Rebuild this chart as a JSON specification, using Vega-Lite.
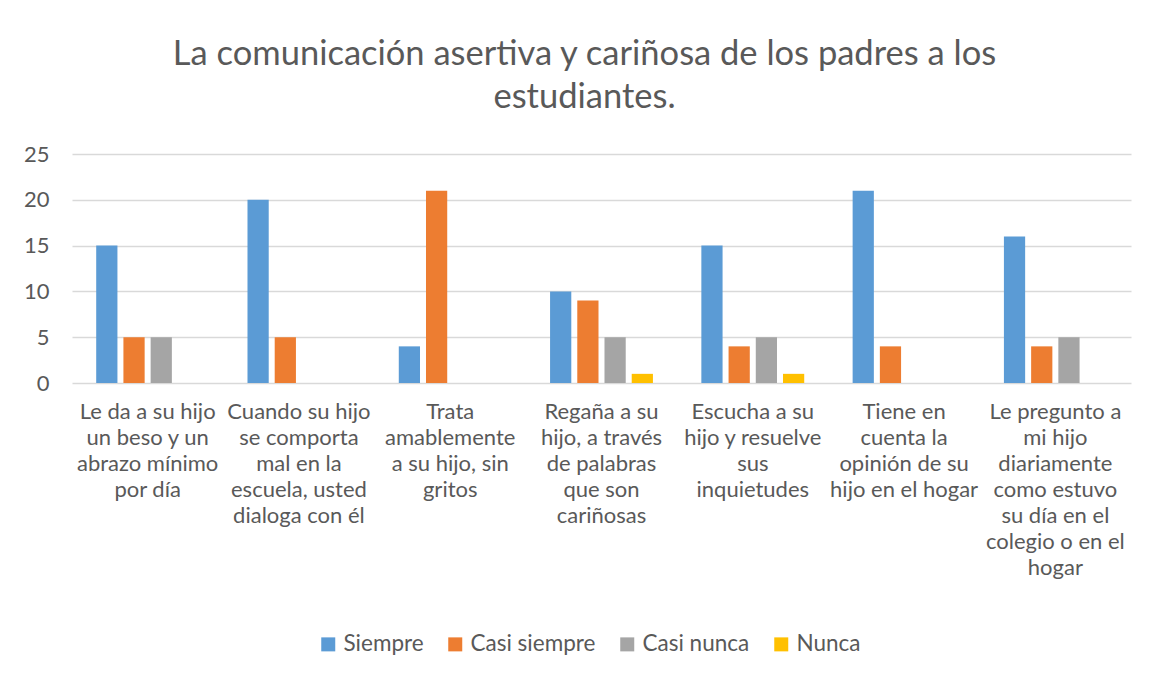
{
  "$schema": "https://vega.github.io/schema/vega-lite/v6.json",
  "width": 1059,
  "height": 229,
  "autosize": {"type": "none"},
  "padding": {"left": 72, "top": 154, "right": 26, "bottom": 296},
  "background": "white",
  "title": {
    "text": ["La comunicación asertiva y cariñosa de los padres a los", "estudiantes."],
    "anchor": "middle",
    "dx": -17,
    "offset": 28,
    "fontSize": 34.5,
    "lineHeight": 43,
    "font": "Lato",
    "fontWeight": "normal",
    "color": "#595959"
  },
  "data": {
    "values": [
      {"pregunta": "Le da a su hijo|un beso y un|abrazo mínimo|por día", "orden": 1, "respuesta": "Siempre", "valor": 15},
      {"pregunta": "Le da a su hijo|un beso y un|abrazo mínimo|por día", "orden": 1, "respuesta": "Casi siempre", "valor": 5},
      {"pregunta": "Le da a su hijo|un beso y un|abrazo mínimo|por día", "orden": 1, "respuesta": "Casi nunca", "valor": 5},
      {"pregunta": "Le da a su hijo|un beso y un|abrazo mínimo|por día", "orden": 1, "respuesta": "Nunca", "valor": 0},
      {"pregunta": "Cuando su hijo|se comporta|mal en la|escuela, usted|dialoga con él", "orden": 2, "respuesta": "Siempre", "valor": 20},
      {"pregunta": "Cuando su hijo|se comporta|mal en la|escuela, usted|dialoga con él", "orden": 2, "respuesta": "Casi siempre", "valor": 5},
      {"pregunta": "Cuando su hijo|se comporta|mal en la|escuela, usted|dialoga con él", "orden": 2, "respuesta": "Casi nunca", "valor": 0},
      {"pregunta": "Cuando su hijo|se comporta|mal en la|escuela, usted|dialoga con él", "orden": 2, "respuesta": "Nunca", "valor": 0},
      {"pregunta": "Trata|amablemente|a su hijo, sin|gritos", "orden": 3, "respuesta": "Siempre", "valor": 4},
      {"pregunta": "Trata|amablemente|a su hijo, sin|gritos", "orden": 3, "respuesta": "Casi siempre", "valor": 21},
      {"pregunta": "Trata|amablemente|a su hijo, sin|gritos", "orden": 3, "respuesta": "Casi nunca", "valor": 0},
      {"pregunta": "Trata|amablemente|a su hijo, sin|gritos", "orden": 3, "respuesta": "Nunca", "valor": 0},
      {"pregunta": "Regaña a su|hijo, a través|de palabras|que son|cariñosas", "orden": 4, "respuesta": "Siempre", "valor": 10},
      {"pregunta": "Regaña a su|hijo, a través|de palabras|que son|cariñosas", "orden": 4, "respuesta": "Casi siempre", "valor": 9},
      {"pregunta": "Regaña a su|hijo, a través|de palabras|que son|cariñosas", "orden": 4, "respuesta": "Casi nunca", "valor": 5},
      {"pregunta": "Regaña a su|hijo, a través|de palabras|que son|cariñosas", "orden": 4, "respuesta": "Nunca", "valor": 1},
      {"pregunta": "Escucha a su|hijo y resuelve|sus|inquietudes", "orden": 5, "respuesta": "Siempre", "valor": 15},
      {"pregunta": "Escucha a su|hijo y resuelve|sus|inquietudes", "orden": 5, "respuesta": "Casi siempre", "valor": 4},
      {"pregunta": "Escucha a su|hijo y resuelve|sus|inquietudes", "orden": 5, "respuesta": "Casi nunca", "valor": 5},
      {"pregunta": "Escucha a su|hijo y resuelve|sus|inquietudes", "orden": 5, "respuesta": "Nunca", "valor": 1},
      {"pregunta": "Tiene en|cuenta la|opinión de su|hijo en el hogar", "orden": 6, "respuesta": "Siempre", "valor": 21},
      {"pregunta": "Tiene en|cuenta la|opinión de su|hijo en el hogar", "orden": 6, "respuesta": "Casi siempre", "valor": 4},
      {"pregunta": "Tiene en|cuenta la|opinión de su|hijo en el hogar", "orden": 6, "respuesta": "Casi nunca", "valor": 0},
      {"pregunta": "Tiene en|cuenta la|opinión de su|hijo en el hogar", "orden": 6, "respuesta": "Nunca", "valor": 0},
      {"pregunta": "Le pregunto a|mi hijo|diariamente|como estuvo|su día en el|colegio o en el|hogar", "orden": 7, "respuesta": "Siempre", "valor": 16},
      {"pregunta": "Le pregunto a|mi hijo|diariamente|como estuvo|su día en el|colegio o en el|hogar", "orden": 7, "respuesta": "Casi siempre", "valor": 4},
      {"pregunta": "Le pregunto a|mi hijo|diariamente|como estuvo|su día en el|colegio o en el|hogar", "orden": 7, "respuesta": "Casi nunca", "valor": 5},
      {"pregunta": "Le pregunto a|mi hijo|diariamente|como estuvo|su día en el|colegio o en el|hogar", "orden": 7, "respuesta": "Nunca", "valor": 0}
    ]
  },
  "mark": {"type": "bar"},
  "encoding": {
    "x": {
      "field": "pregunta",
      "type": "nominal",
      "sort": {"field": "orden"},
      "scale": {"paddingInner": 0.32, "paddingOuter": 0.16},
      "axis": {
        "title": null,
        "labelAngle": 0,
        "labelExpr": "split(datum.label, '|')",
        "labelFont": "Lato",
        "labelFontSize": 22,
        "labelColor": "#595959",
        "labelLineHeight": 26,
        "labelPadding": 18,
        "labelLimit": 0,
        "labelBaseline": "top",
        "ticks": false,
        "domain": false,
        "grid": false
      }
    },
    "xOffset": {
      "field": "respuesta",
      "type": "nominal",
      "sort": ["Siempre", "Casi siempre", "Casi nunca", "Nunca"],
      "scale": {"paddingInner": 0.22, "paddingOuter": 0}
    },
    "y": {
      "field": "valor",
      "type": "quantitative",
      "scale": {"domain": [0, 25], "nice": false},
      "axis": {
        "title": null,
        "values": [0, 5, 10, 15, 20, 25],
        "labelFont": "Lato",
        "labelFontSize": 22,
        "labelColor": "#595959",
        "labelPadding": 23,
        "ticks": false,
        "domain": false,
        "gridColor": "#d9d9d9",
        "gridWidth": 1.3
      }
    },
    "color": {
      "field": "respuesta",
      "type": "nominal",
      "sort": ["Siempre", "Casi siempre", "Casi nunca", "Nunca"],
      "scale": {
        "domain": ["Siempre", "Casi siempre", "Casi nunca", "Nunca"],
        "range": ["#5B9BD5", "#ED7D31", "#A5A5A5", "#FFC000"]
      },
      "legend": {
        "title": null,
        "orient": "none",
        "direction": "horizontal",
        "legendX": 245,
        "legendY": 479,
        "padding": 0,
        "symbolType": "square",
        "symbolSize": 196,
        "symbolStrokeWidth": 0,
        "labelFont": "Lato",
        "labelFontSize": 22.5,
        "labelColor": "#595959",
        "labelOffset": 4,
        "columnPadding": 20
      }
    }
  },
  "config": {"view": {"stroke": null}}
}
